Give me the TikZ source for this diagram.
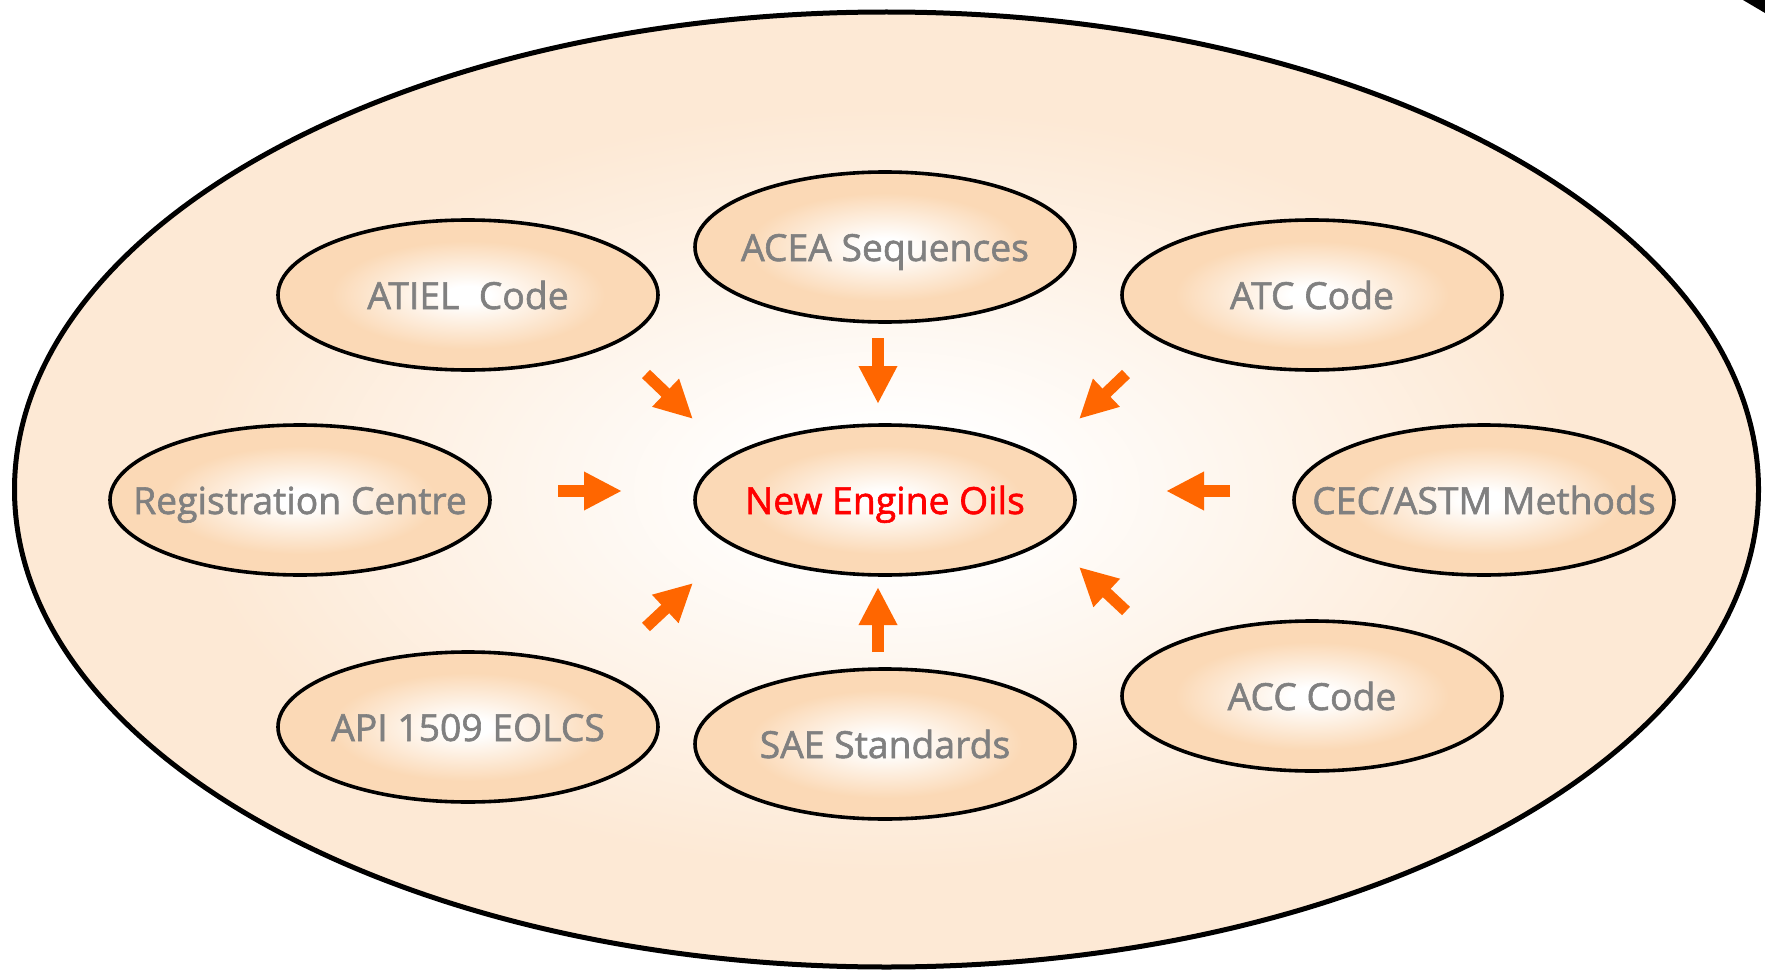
\documentclass[tikz,border=0pt]{standalone}
\usepackage{fontspec}
\setmainfont{Open Sans}
\newfontfamily\labelfont{Open Sans}[FakeBold=1.6]
\usetikzlibrary{shapes.geometric,arrows.meta}
\definecolor{peachout}{RGB}{253,233,213}
\definecolor{peachin}{RGB}{251,217,182}
\definecolor{txtgray}{RGB}{128,128,128}
\definecolor{arrowor}{RGB}{255,102,0}
\pgfdeclareradialshading{bigglow}{\pgfpoint{0bp}{0bp}}{color(0bp)=(white); color(3bp)=(white); color(20bp)=(peachout); color(50bp)=(peachout)}
\pgfdeclareradialshading{smallglow}{\pgfpoint{0bp}{0bp}}{color(0bp)=(white); color(3bp)=(white); color(18bp)=(peachin); color(50bp)=(peachin)}
\newcommand{\lbl}[1]{\makebox[0pt]{#1}}
\tikzset{
  outerbox/.style={ellipse, draw=black, line width=5pt, inner sep=0pt, minimum width=1744pt, minimum height=955pt, shading=bigglow},
  oval/.style={ellipse, draw=black, line width=3.6pt, inner sep=0pt, minimum width=380pt, minimum height=150pt, shading=smallglow, text=txtgray, text height=28pt, text depth=0pt, font=\labelfont\fontsize{37.3}{44}\selectfont},
  mainoval/.style={oval, text=red},
  fatarrow/.style={draw=arrowor, line width=11.5pt, -{Triangle[width=36pt,length=38pt]}}
}
\begin{document}
\begin{tikzpicture}[x=1pt,y=-1pt]
\useasboundingbox (0,0) rectangle (1765,971);
\fill[black] (1743,0) -- (1765,0) -- (1765,13) -- cycle;
\node[outerbox] (outer) at (886.5,489.5) {};
\node[oval] (atiel) at (468,295) {\lbl{ATIEL\ \ Code}};
\node[oval] (acea) at (885,247) {\lbl{ACEA Sequences}};
\node[oval] (atc) at (1312,295) {\lbl{ATC Code}};
\node[oval] (reg) at (300,500) {\lbl{Registration Centre}};
\node[mainoval] (neo) at (885,500) {\lbl{New Engine Oils}};
\node[oval] (cec) at (1484,500) {\lbl{CEC/ASTM Methods}};
\node[oval] (api) at (468,727) {\lbl{API 1509 EOLCS}};
\node[oval] (sae) at (885,744) {\lbl{SAE Standards}};
\node[oval] (acc) at (1312,696) {\lbl{ACC Code}};
\coordinate (a1s) at (646,374); \coordinate (a1e) at (693,419);
\coordinate (a2s) at (878,338); \coordinate (a2e) at (878,404);
\coordinate (a3s) at (1126,374); \coordinate (a3e) at (1079,419);
\coordinate (a4s) at (558,491); \coordinate (a4e) at (622,491);
\coordinate (a5s) at (1230,491); \coordinate (a5e) at (1166,491);
\coordinate (a6s) at (646,627); \coordinate (a6e) at (693,583);
\coordinate (a7s) at (878,652); \coordinate (a7e) at (878,587);
\coordinate (a8s) at (1126,611); \coordinate (a8e) at (1079,567);
\foreach \i in {1,...,8} {\draw[fatarrow] (a\i s) -- (a\i e);}
\end{tikzpicture}
\end{document}
